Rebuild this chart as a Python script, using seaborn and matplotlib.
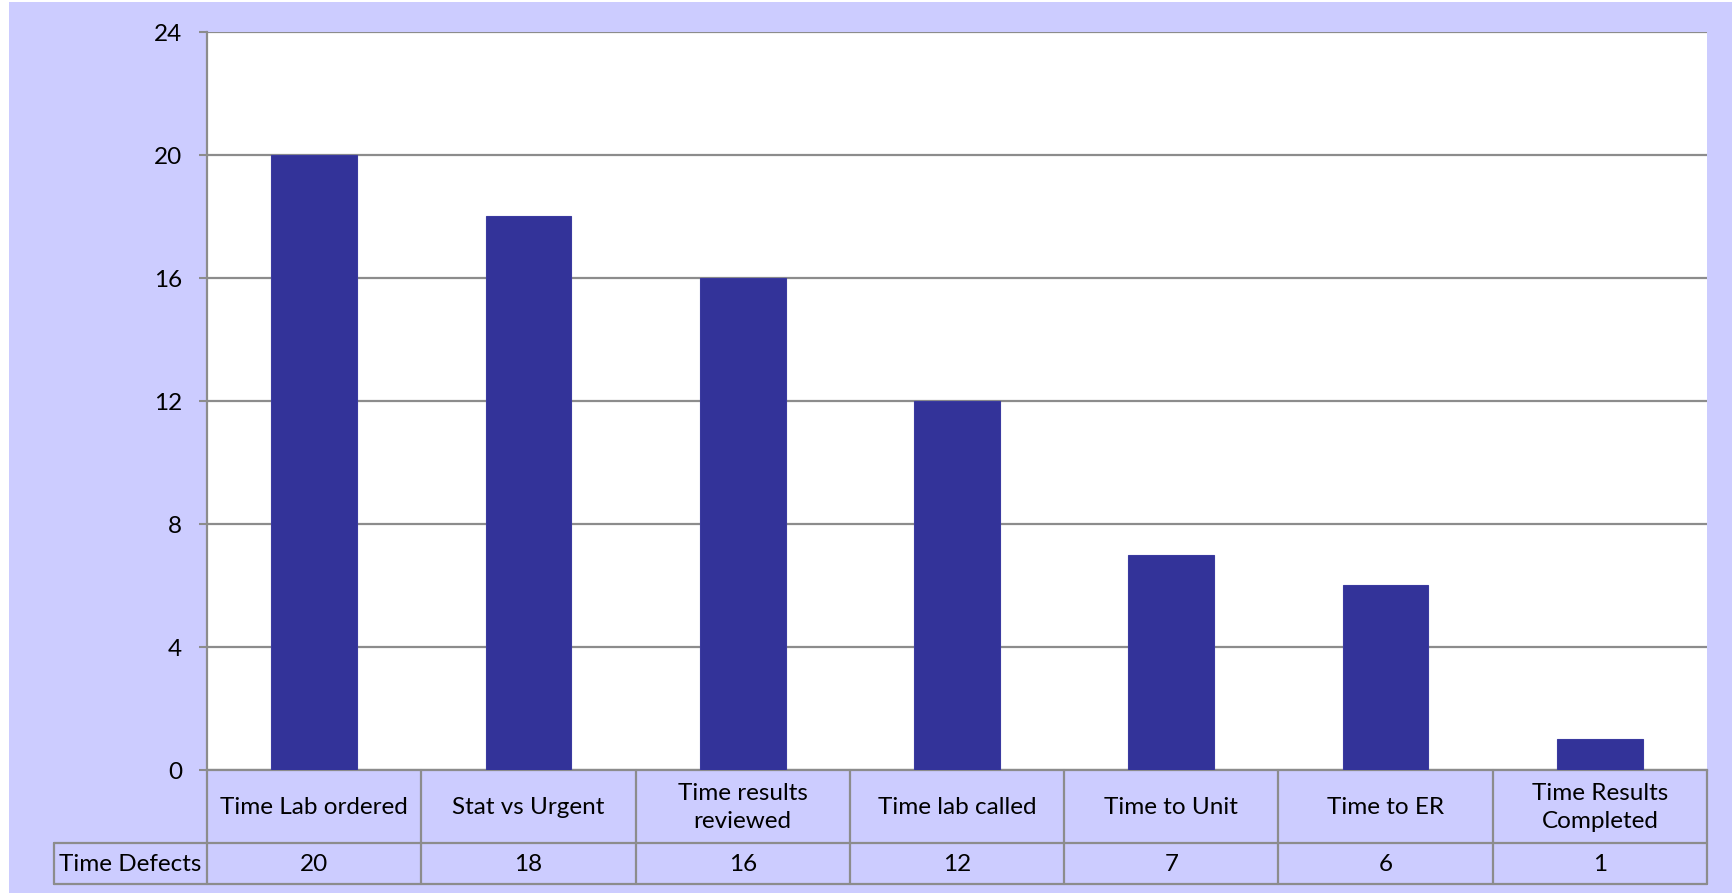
import matplotlib
matplotlib.use("Agg")
import matplotlib.pyplot as plt
import matplotlib.transforms as mtransforms
from matplotlib.patches import Rectangle
import seaborn as sns
import pandas as pd

categories = ["Time Lab ordered", "Stat vs Urgent", "Time results\nreviewed",
              "Time lab called", "Time to Unit", "Time to ER", "Time Results\nCompleted"]
values = [20, 18, 16, 12, 7, 6, 1]
series_name = "Time Defects"
y_ticks = [0, 4, 8, 12, 16, 20, 24]

sns.set_theme(style="white")
plt.rcParams['font.family'] = ['Lato', 'DejaVu Sans']

BG = "#CCCCFF"
BAR = "#333399"
LINE = "#8c8c8c"
W, H = 1734, 895
FS = 17.5

fig = plt.figure(figsize=(W / 100, H / 100), dpi=100, facecolor="white")
fig.patches.append(Rectangle((9 / W, 1 / H), (1732 - 9) / W, (892 - 1) / H,
                             transform=fig.transFigure, facecolor=BG, edgecolor="none", zorder=-1))

left, right, top, bottom = 207, 1707, 32.5, 771
ax = fig.add_axes([left / W, 1 - bottom / H, (right - left) / W, (bottom - top) / H])
ax.set_facecolor("white")

df = pd.DataFrame({"cat": categories, "val": values})
sns.barplot(data=df, x="cat", y="val", color=BAR, saturation=1, width=0.4, ax=ax,
            zorder=3, linewidth=0.8, edgecolor="#3a3aa0")

ax.set_xlim(-0.5, len(categories) - 0.5)
ax.set_ylim(0, 24)
ax.set_yticks(y_ticks)
ax.set_yticklabels([str(t) for t in y_ticks], fontsize=FS, color="black")
ax.set_xticks([])
ax.set_xlabel("")
ax.set_ylabel("")
ax.yaxis.grid(True, color=LINE, linewidth=1.6, zorder=0)
ax.set_axisbelow(True)
ax.tick_params(axis="y", which="both", left=True, length=6, width=1.5, color=LINE, pad=12)
for s in ["top", "right"]:
    ax.spines[s].set_visible(False)
for s in ["left", "bottom"]:
    ax.spines[s].set_color(LINE)
    ax.spines[s].set_linewidth(1.6)

# data table below the axis
axes_h = bottom - top
axes_w = right - left
row1 = -(844 - bottom) / axes_h
row2 = -(885 - bottom) / axes_h
label_left = (54 - left) / axes_w
trans = mtransforms.blended_transform_factory(ax.transData, ax.transAxes)
tr_ax = ax.transAxes
kw = dict(color=LINE, linewidth=1.6, clip_on=False)

for i in range(len(categories) + 1):
    ax.plot([i - 0.5, i - 0.5], [0, row2], transform=trans, **kw)
ax.plot([label_left, 1], [row1, row1], transform=tr_ax, **kw)
ax.plot([label_left, 1], [row2, row2], transform=tr_ax, **kw)
ax.plot([label_left, label_left], [row1, row2], transform=tr_ax, **kw)

for i, (c, v) in enumerate(zip(categories, values)):
    ax.text(i, row1 / 2, c, transform=trans, ha="center", va="center",
            fontsize=FS, linespacing=1.45, color="black")
    ax.text(i, (row1 + row2) / 2, str(v), transform=trans, ha="center", va="center",
            fontsize=FS, color="black")
ax.text(label_left / 2, (row1 + row2) / 2, series_name, transform=tr_ax,
        ha="center", va="center", fontsize=FS, color="black")

fig.savefig("out.png", dpi=100, facecolor=fig.get_facecolor())
